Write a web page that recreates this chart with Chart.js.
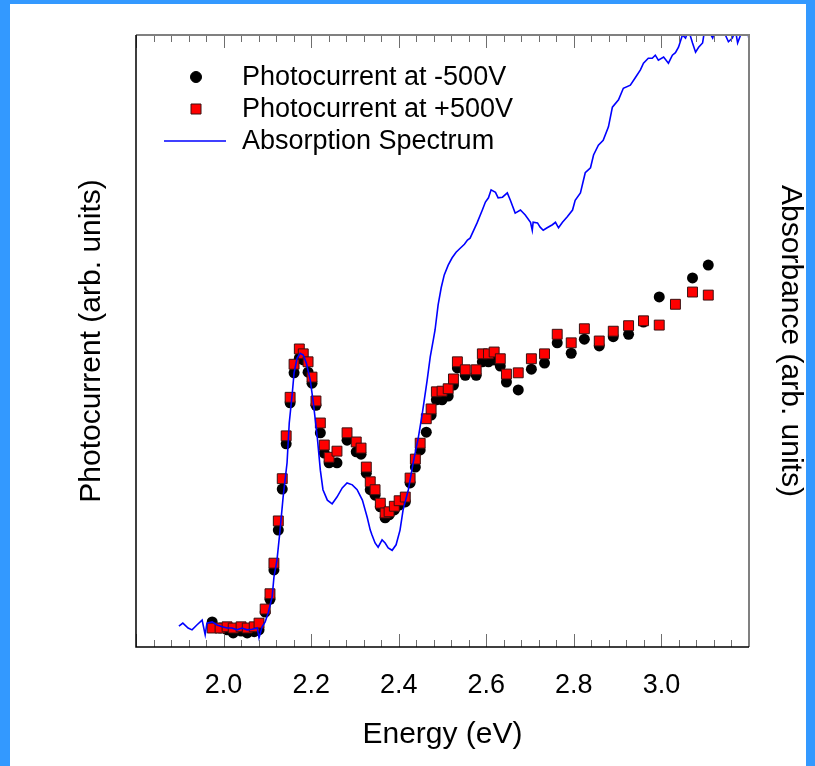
<!DOCTYPE html>
<html>
<head>
<meta charset="utf-8">
<script src="https://cdn.jsdelivr.net/npm/chart.js@4.4.1/dist/chart.umd.min.js"></script>
<style>
  html, body { margin: 0; padding: 0; }
  body { width: 815px; height: 766px; background: #3399ff; position: relative; overflow: hidden; }
  #paper { position: absolute; left: 10px; top: 4px; width: 796px; height: 762px; background: #fff; }
  #wrap { position: absolute; left: 0; top: 0; width: 815px; height: 766px; }
</style>
</head>
<body>
<div id="paper"></div>
<div id="wrap"><canvas id="photoChart" width="815" height="766"></canvas></div>
<script>
// photocurrent scan energies (eV), shared by both bias polarities
const scanEnergy = [1.974, 1.992, 2.008, 2.022, 2.040, 2.054, 2.070, 2.081, 2.095, 2.106,
  2.115, 2.125, 2.134, 2.143, 2.152, 2.161, 2.173, 2.182, 2.193, 2.202,
  2.211, 2.221, 2.230, 2.241, 2.259, 2.282, 2.303, 2.314, 2.326, 2.335,
  2.346, 2.358, 2.369, 2.378, 2.390, 2.401, 2.415, 2.426, 2.438, 2.449,
  2.463, 2.474, 2.486, 2.499, 2.513, 2.525, 2.534, 2.552, 2.577, 2.591,
  2.605, 2.618, 2.632, 2.646, 2.673, 2.703, 2.733, 2.762, 2.794, 2.824,
  2.858, 2.890, 2.925, 2.959, 2.995, 3.032, 3.071, 3.107];

// photocurrent at -500 V (arb. units)
const photoNeg = [4.1, 3.1, 2.8, 2.3, 2.6, 2.3, 2.5, 2.8, 5.7, 7.8,
  12.6, 19.1, 25.8, 33.2, 39.9, 44.8, 47.2, 46.9, 44.9, 43.1,
  39.5, 35.0, 31.7, 30.1, 30.1, 33.8, 31.9, 31.5, 28.4, 25.7,
  24.8, 22.9, 21.1, 21.6, 22.4, 23.2, 23.7, 26.8, 29.4, 32.2,
  35.1, 37.9, 40.4, 40.4, 41.0, 42.8, 45.6, 44.4, 44.4, 46.6,
  46.6, 46.9, 45.9, 43.3, 42.0, 45.4, 46.4, 49.7, 48.0, 50.3,
  49.2, 50.7, 51.1, 53.1, 57.2, null, 60.3, 62.4];

// photocurrent at +500 V (arb. units)
const photoPos = [3.1, 3.1, 3.3, 3.1, 3.3, 3.1, 3.3, 3.9, 6.2, 8.7,
  13.7, 20.6, 27.5, 34.5, 40.8, 46.2, 48.7, 47.9, 46.6, 44.1,
  40.2, 36.6, 33.0, 31.0, 32.0, 35.0, 33.5, 32.5, 29.4, 27.0,
  25.7, 23.5, 21.9, 22.1, 23.0, 23.9, 24.5, 27.6, 30.7, 33.3,
  37.3, 38.9, 41.7, 41.8, 42.2, 43.8, 46.6, 45.3, 45.3, 47.9,
  47.9, 48.2, 47.1, 44.6, 44.8, 47.1, 47.9, 51.1, 49.7, 52.0,
  50.0, 51.6, 52.5, 53.3, 52.6, 56.0, 58.0, 57.5];

// absorption spectrum
const absEnergy = [1.898, 1.907, 1.919, 1.928, 1.939, 1.951, 1.958, 1.962, 1.974, 1.985,
  1.997, 2.008, 2.019, 2.031, 2.042, 2.054, 2.065, 2.077, 2.081, 2.088,
  2.095, 2.102, 2.111, 2.115, 2.122, 2.129, 2.136, 2.145, 2.150, 2.157,
  2.161, 2.168, 2.175, 2.182, 2.189, 2.198, 2.205, 2.214, 2.221, 2.227,
  2.237, 2.248, 2.259, 2.271, 2.282, 2.294, 2.305, 2.317, 2.328, 2.335,
  2.339, 2.346, 2.353, 2.362, 2.369, 2.376, 2.385, 2.394, 2.403, 2.410,
  2.422, 2.433, 2.445, 2.454, 2.465, 2.472, 2.479, 2.483, 2.490, 2.497,
  2.504, 2.513, 2.522, 2.531, 2.541, 2.550, 2.557, 2.563, 2.579, 2.591,
  2.598, 2.605, 2.611, 2.621, 2.627, 2.637, 2.648, 2.655, 2.666, 2.678,
  2.689, 2.701, 2.705, 2.707, 2.717, 2.723, 2.730, 2.739, 2.751, 2.758,
  2.765, 2.774, 2.785, 2.797, 2.803, 2.815, 2.826, 2.838, 2.845, 2.856,
  2.867, 2.879, 2.888, 2.902, 2.913, 2.929, 2.941, 2.952, 2.959, 2.970,
  2.979, 2.986, 2.993, 3.005, 3.016, 3.025, 3.032, 3.039, 3.048, 3.055,
  3.062, 3.071, 3.078, 3.085, 3.094, 3.098, 3.107, 3.117, 3.123, 3.135,
  3.146, 3.153, 3.162, 3.169, 3.174, 3.185, 3.197, 3.200];

const absorbance = [3.4, 3.9, 3.1, 2.8, 3.6, 4.4, 2.0, 3.9, 4.1, 3.6,
  3.3, 3.1, 3.1, 2.8, 3.1, 2.8, 2.9, 3.1, 1.5, 3.3,
  4.1, 5.6, 8.2, 11.4, 14.2, 19.1, 24.5, 30.1, 36.6, 41.5,
  44.8, 47.2, 48.0, 47.7, 46.4, 43.6, 39.9, 34.3, 28.9, 25.7,
  24.0, 23.4, 24.5, 26.0, 26.8, 26.5, 25.7, 24.0, 21.2, 19.1,
  18.3, 17.0, 16.3, 17.5, 17.0, 16.2, 15.8, 16.7, 19.1, 22.4,
  25.7, 30.1, 34.3, 38.2, 43.6, 47.4, 50.2, 51.8, 55.9, 58.7,
  60.8, 62.4, 63.6, 64.5, 65.2, 65.8, 66.5, 66.8, 69.3, 71.4,
  72.7, 73.4, 74.7, 74.3, 73.4, 73.5, 74.2, 73.0, 70.9, 71.4,
  70.6, 69.4, 68.1, 69.4, 69.3, 68.6, 68.1, 68.5, 69.0, 69.4,
  68.5, 69.4, 70.3, 71.4, 73.0, 74.2, 77.5, 78.3, 80.4, 82.0,
  82.8, 85.0, 88.2, 89.4, 91.3, 91.8, 93.1, 94.3, 95.4, 96.2,
  96.2, 96.7, 95.9, 96.4, 95.4, 96.7, 97.1, 98.0, 100.0, 99.5,
  100.8, 98.7, 97.2, 98.0, 98.7, 100.5, 100.8, 99.5, 100.8, 101.0,
  100.0, 98.9, 99.5, 100.8, 98.7, 100.8, 100.8, 99.2];

const xTickLabels = [2.0, 2.2, 2.4, 2.6, 2.8, 3.0];

const FONT = '"Liberation Sans", Arial, Helvetica, sans-serif';

function pairs(xs, ys) {
  return xs.map((x, i) => ({ x: x, y: ys[i] }));
}

// inward ticks on top and bottom, grey top/right edges of the box
const frameTicks = {
  id: 'frameTicks',
  afterDatasetsDraw(chart) {
    const { ctx, chartArea: a, scales: { x } } = chart;
    ctx.save();
    ctx.strokeStyle = '#6e6e6e';
    ctx.lineWidth = 1;
    const min = x.min, max = x.max;
    const n = Math.round((max - min) / 0.04);
    for (let i = 0; i <= n; i++) {
      const px = Math.round(x.getPixelForValue(min + i * 0.04)) + 0.5;
      const len = i % 5 === 0 ? 13 : 7;
      ctx.beginPath();
      ctx.moveTo(px, a.bottom);
      ctx.lineTo(px, a.bottom - len);
      ctx.moveTo(px, a.top);
      ctx.lineTo(px, a.top + len);
      ctx.stroke();
    }
    ctx.strokeStyle = '#808080';
    ctx.lineWidth = 2;
    ctx.beginPath();
    ctx.moveTo(a.left, a.top);
    ctx.lineTo(a.right, a.top);
    ctx.lineTo(a.right, a.bottom);
    ctx.stroke();
    ctx.strokeStyle = '#000';
    ctx.lineWidth = 1.5;
    ctx.beginPath();
    ctx.moveTo(a.left, a.top);
    ctx.lineTo(a.left, a.bottom);
    ctx.lineTo(a.right, a.bottom);
    ctx.stroke();
    ctx.restore();
  }
};

// legend in the upper left corner of the plot
const boxLegend = {
  id: 'boxLegend',
  afterDraw(chart) {
    const { ctx } = chart;
    const ds = chart.data.datasets;
    const rows = [
      { d: ds[2], y: 77 },
      { d: ds[1], y: 109 },
      { d: ds[0], y: 141 }
    ];
    ctx.save();
    ctx.font = '27px ' + FONT;
    ctx.textBaseline = 'middle';
    ctx.fillStyle = '#000';
    rows.forEach(r => {
      const d = r.d;
      if (d.showLine === false) {
        ctx.beginPath();
        if (d.pointStyle === 'rect') {
          ctx.rect(191, r.y - 5, 10, 10);
        } else {
          ctx.arc(196, r.y, 5.5, 0, Math.PI * 2);
        }
        ctx.fillStyle = d.backgroundColor;
        ctx.fill();
        ctx.lineWidth = 1;
        ctx.strokeStyle = d.borderColor;
        ctx.stroke();
      } else {
        ctx.beginPath();
        ctx.moveTo(164, r.y);
        ctx.lineTo(226, r.y);
        ctx.strokeStyle = d.borderColor;
        ctx.lineWidth = 1.5;
        ctx.stroke();
      }
      ctx.fillStyle = '#000';
      ctx.fillText(d.label, 242, r.y + 1);
    });
    ctx.restore();
  }
};

new Chart(document.getElementById('photoChart'), {
  type: 'scatter',
  data: {
    datasets: [
      {
        label: 'Absorption Spectrum',
        data: pairs(absEnergy, absorbance),
        yAxisID: 'y2',
        showLine: true,
        borderColor: '#0000ff',
        borderWidth: 1.6,
        pointRadius: 0,
        tension: 0,
        order: 0
      },
      {
        label: 'Photocurrent at +500V',
        data: pairs(scanEnergy, photoPos),
        showLine: false,
        pointStyle: 'rect',
        pointRadius: 7,
        backgroundColor: '#ff0000',
        borderColor: '#3a1010',
        borderWidth: 1,
        order: 1
      },
      {
        label: 'Photocurrent at -500V',
        data: pairs(scanEnergy, photoNeg),
        showLine: false,
        pointStyle: 'circle',
        pointRadius: 5.5,
        backgroundColor: '#000',
        borderColor: '#000',
        borderWidth: 0,
        order: 2
      }
    ]
  },
  options: {
    responsive: false,
    animation: false,
    layout: { padding: { left: 74, right: 7, top: 35, bottom: 0 } },
    plugins: { legend: { display: false }, tooltip: { enabled: false } },
    scales: {
      x: {
        type: 'linear',
        min: 1.8,
        max: 3.2,
        afterBuildTicks: s => { s.ticks = xTickLabels.map(v => ({ value: v })); },
        afterFit: s => { s.height = 766 - 647; },
        grid: { display: false, drawTicks: false },
        border: { display: false },
        ticks: {
          padding: 22,
          color: '#000',
          font: { family: FONT, size: 27 },
          callback: v => v.toFixed(1)
        },
        title: {
          display: true,
          text: 'Energy (eV)',
          color: '#000',
          font: { family: FONT, size: 30 },
          padding: { top: 0, bottom: 13 }
        }
      },
      y: {
        position: 'left',
        min: 0,
        max: 100,
        afterFit: s => { s.width = 136 - 74; },
        grid: { display: false, drawTicks: false },
        border: { display: false },
        ticks: { display: false },
        title: {
          display: true,
          text: 'Photocurrent (arb. units)',
          color: '#000',
          font: { family: FONT, size: 30 },
          padding: { top: 0, bottom: 0 }
        }
      },
      y2: {
        position: 'right',
        min: 0,
        max: 100,
        afterFit: s => { s.width = 815 - 7 - 749; },
        grid: { display: false, drawTicks: false },
        border: { display: false },
        ticks: { display: false },
        title: {
          display: true,
          text: 'Absorbance (arb. units)',
          color: '#000',
          font: { family: FONT, size: 30 },
          padding: { top: 0, bottom: 0 }
        }
      }
    }
  },
  plugins: [frameTicks, boxLegend]
});
</script>
</body>
</html>
